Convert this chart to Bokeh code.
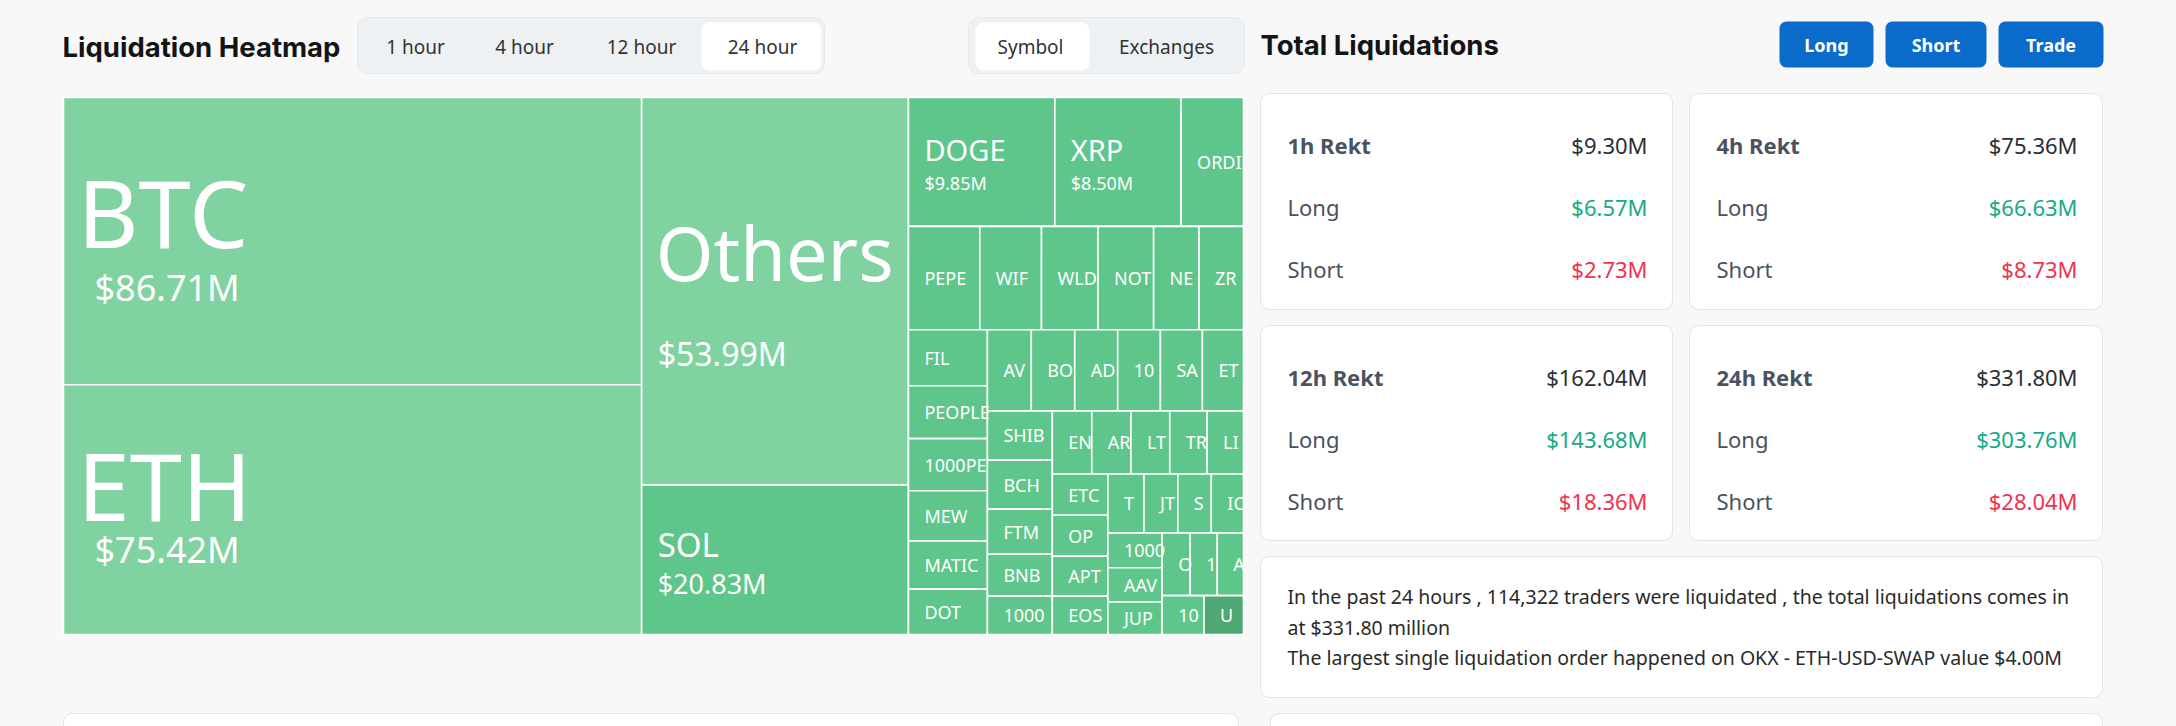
import math
from bokeh.plotting import figure
from bokeh.models import Range1d, BoxAnnotation, ColumnDataSource
from bokeh.embed import file_html
from bokeh.resources import INLINE
from bokeh.core.properties import value

# ---------------- data ----------------
coins = ["BTC", "ETH", "Others", "SOL", "DOGE", "XRP",
         "ORDI", "PEPE", "WIF", "WLD", "NOT", "NEAR", "ZRO",
         "FIL", "PEOPLE", "1000PEPE", "MEW", "MATIC", "DOT",
         "AVAX", "BOME", "ADA", "1000BONK", "SATS", "ETHFI",
         "SHIB", "BCH", "FTM", "BNB", "1000RATS",
         "ENA", "ARB", "LTC", "TRB", "LINK",
         "ETC", "OP", "APT", "EOS",
         "TURBO", "JTO", "SUI", "ICP",
         "1000FLOKI", "AAVE", "JUP",
         "ONDO", "1000LUNC", "ARKM",
         "1000XEC", "UNI"]
liq_m = [86.71, 75.42, 53.99, 20.83, 9.85, 8.50,
         4.20, 3.85, 3.33, 3.05, 3.00, 2.45, 2.40,
         2.31, 2.18, 2.15, 2.07, 1.99, 1.87,
         1.86, 1.84, 1.82, 1.81, 1.78, 1.74,
         1.67, 1.66, 1.53, 1.42, 1.30,
         1.30, 1.29, 1.28, 1.23, 1.20,
         1.20, 1.19, 1.16, 1.11,
         1.11, 1.04, 1.03, 0.99,
         0.99, 0.97, 0.92,
         0.92, 0.89, 0.86,
         0.85, 0.80]
heat = [0, 0, 0] + [1] * 47 + [2]

time_tabs = ["1 hour", "4 hour", "12 hour", "24 hour"]
group_tabs = ["Symbol", "Exchanges"]
action_buttons = ["Long", "Short", "Trade"]

periods = ["1h Rekt", "4h Rekt", "12h Rekt", "24h Rekt"]
total_m = [9.30, 75.36, 162.04, 331.80]
long_m = [6.57, 66.63, 143.68, 303.76]
short_m = [2.73, 8.73, 18.36, 28.04]

traders_liquidated = 114322
largest_exchange = "OKX"
largest_symbol = "ETH-USD-SWAP"
largest_value_m = 4.00

# ---------------- page geometry helpers ----------------
PW, PH = 2176, 726
def X(sx):
    return sx
def Y(sy):
    return PH - sy

BG = "#f8f8f8"
FONT = "Noto Sans"
GREEN = "#1aa988"
RED = "#f0334d"
TILE_COLORS = ["#80d3a1", "#5ec68a", "#4fa873"]

p = figure(width=PW, height=PH, x_range=Range1d(0, PW), y_range=Range1d(0, PH),
           output_backend="svg", toolbar_location=None,
           x_axis_location=None, y_axis_location=None, min_border=0,
           background_fill_color=BG, border_fill_color=BG, outline_line_color=None)
p.grid.visible = False


def box(l, t, r, b, fill, line=None, radius=8, lw=1):
    p.add_layout(BoxAnnotation(left=X(l), right=X(r), top=Y(t), bottom=Y(b),
                               fill_color=fill, fill_alpha=1.0,
                               line_color=line, line_alpha=1.0 if line else 0.0,
                               line_width=lw, border_radius=radius, level="underlay"))


# ---------------- treemap (ECharts-style squarify) ----------------
def squarify(vals, x0, y0, w, h, ratio=(1 + 5 ** 0.5) / 2):
    total = sum(vals)
    areas = [v / total * w * h for v in vals]
    rect = [x0, y0, w, h]
    out = [None] * len(vals)

    def worst(row, rarea, L):
        amax = max(areas[i] for i in row)
        amin = min(areas[i] for i in row)
        sq = rarea * rarea
        f = L * L * ratio
        return max(f * amax / sq, sq / (f * amin))

    def position(row, rarea, L, flush):
        horiz = (L == rect[2])
        other = rarea / L
        if horiz:
            if flush or other > rect[3]:
                other = rect[3]
            last = rect[0]
            for k, i in enumerate(row):
                step = areas[i] / other
                remain = rect[0] + rect[2] - last
                mod = remain if (k == len(row) - 1 or remain < step) else step
                out[i] = (last, rect[1], mod, other)
                last += mod
            rect[1] += other
            rect[3] -= other
        else:
            if flush or other > rect[2]:
                other = rect[2]
            last = rect[1]
            for k, i in enumerate(row):
                step = areas[i] / other
                remain = rect[1] + rect[3] - last
                mod = remain if (k == len(row) - 1 or remain < step) else step
                out[i] = (rect[0], last, other, mod)
                last += mod
            rect[0] += other
            rect[2] -= other

    L = min(w, h)
    best = math.inf
    row, rarea, i = [], 0.0, 0
    while i < len(vals):
        row.append(i)
        rarea += areas[i]
        s = worst(row, rarea, L)
        if s <= best:
            i += 1
            best = s
        else:
            row.pop()
            rarea -= areas[i]
            position(row, rarea, L, False)
            L = min(rect[2], rect[3])
            row, rarea, best = [], 0.0, math.inf
    if row:
        position(row, rarea, L, True)
    return out


TM_X, TM_Y, TM_W, TM_H = 63, 97, 1180, 537
tiles = squarify(liq_m, TM_X, TM_Y, TM_W, TM_H)
total_liq = sum(liq_m)

tsrc = ColumnDataSource(dict(
    left=[X(t[0]) for t in tiles], right=[X(t[0] + t[2]) for t in tiles],
    top=[Y(t[1]) for t in tiles], bottom=[Y(t[1] + t[3]) for t in tiles],
    color=[TILE_COLORS[h] for h in heat], name=coins, val=liq_m))
p.quad(left="left", right="right", top="top", bottom="bottom", source=tsrc,
       fill_color="color", line_color="white", line_width=1.6)

CW = {c: 0.572 for c in "0123456789"}
CW.update(dict(A=.639, B=.648, C=.632, D=.735, E=.556, F=.516, G=.73, H=.742, I=.3,
               J=.264, K=.618, L=.524, M=.907, N=.764, O=.787, P=.603, Q=.787, R=.617,
               S=.549, T=.553, U=.733, V=.604, W=.92, X=.589, Y=.56, Z=.573))


def fit(name, avail, fs):
    out, acc = "", 0.0
    for ch in name:
        cw = CW.get(ch, 0.6) * fs
        if acc + cw > avail + 4:
            break
        out += ch
        acc += cw
    return out


def style(share):
    if share >= 0.2:
        return 94, 36, 14, 31
    if share >= 0.1:
        return 74, 32, 14, 16
    if share >= 0.05:
        return 33, 27, 16, 16
    if share >= 0.02:
        return 29, 18, 16, 16
    return None


nx, ny, nt, nfs = [], [], [], []
for (x, y, w, h), name, v in zip(tiles, coins, liq_m):
    st = style(v / total_liq)
    if st:
        fs_n, fs_v, pad_n, pad_v = st
        nx += [X(x + pad_n), X(x + pad_v)]
        ny += [Y(y + 0.40 * h), Y(y + 0.66 * h)]
        nt += [name, "$%.2fM" % v]
        nfs += ["%dpx" % fs_n, "%dpx" % fs_v]
    else:
        nx.append(X(x + 16))
        ny.append(Y(y + h / 2))
        nt.append(fit(name, w - 17, 18))
        nfs.append("18px")
p.text(x=nx, y=ny, text=nt, text_font_size=nfs, text_color="white",
       text_font=value(FONT), text_baseline="middle", text_align="left")

# ---------------- header ----------------
p.text(x=[X(62), X(1260)], y=[Y(46), Y(44)], text=["Liquidation Heatmap", "Total Liquidations"],
       text_font=value("Inter"), text_font_style="bold", text_font_size="27.5px",
       text_color="#141414", text_baseline="middle")

# time tabs
box(357, 17, 824, 73, "#eef1f4", "#e6e9ec", radius=10)
tab_cx = [415, 524, 641, 762]
box(701, 22, 821, 70, "#ffffff", None, radius=8)
p.text(x=[X(c) for c in tab_cx], y=[Y(46)] * 4, text=time_tabs, text_font=value(FONT),
       text_font_size="19px", text_color="#333333", text_align="center",
       text_baseline="middle")

# group tabs
box(968, 17, 1244, 73, "#eef1f4", "#e6e9ec", radius=10)
box(975, 22, 1089, 70, "#ffffff", None, radius=8)
p.text(x=[X(1030), X(1166)], y=[Y(46)] * 2, text=group_tabs, text_font=value(FONT),
       text_font_size="19px", text_color="#333333", text_align="center",
       text_baseline="middle")

# action buttons
btn_l = [1779, 1885, 1998]
btn_r = [1873, 1986, 2103]
for l, r in zip(btn_l, btn_r):
    box(l, 21, r, 67, "#0b6bcb", None, radius=7)
p.text(x=[X((l + r) / 2) for l, r in zip(btn_l, btn_r)], y=[Y(44)] * 3, text=action_buttons,
       text_font=value(FONT), text_font_style="bold", text_font_size="18px",
       text_color="white", text_align="center", text_baseline="middle")

# ---------------- rekt cards ----------------
card_l = [1260, 1689, 1260, 1689]
card_r = [1672, 2102, 1672, 2102]
card_t = [93, 93, 325, 325]
card_b = [309, 309, 540, 540]
for l, t, r, b in zip(card_l, card_t, card_r, card_b):
    box(l, t, r, b, "#ffffff", "#e4e4e4", radius=9)

lx, ly, lt, lstyle = [], [], [], []
vx, vy, vt, vcol = [], [], [], []
for k in range(4):
    l, t, r = card_l[k], card_t[k], card_r[k]
    rows_y = [t + 51, t + 113, t + 175]
    for lab, yy in zip([periods[k], "Long", "Short"], rows_y):
        lx.append(X(l + 27)); ly.append(Y(yy)); lt.append(lab)
    for val, yy, col in zip([total_m[k], long_m[k], short_m[k]], rows_y,
                            ["#2b2f36", GREEN, RED]):
        vx.append(X(r - 25)); vy.append(Y(yy)); vt.append("$%.2fM" % val); vcol.append(col)
    lstyle += ["bold", "normal", "normal"]

p.text(x=lx, y=ly, text=lt, text_font=value(FONT), text_font_size="22px",
       text_color="#4b5260", text_baseline="middle", text_font_style=lstyle)
p.text(x=vx, y=vy, text=vt, text_font=value(FONT), text_font_size="22px",
       text_color=vcol, text_baseline="middle", text_align="right")

# ---------------- summary box ----------------
box(1260, 556, 2102, 697, "#ffffff", "#e4e4e4", radius=9)
summary = [
    "In the past 24 hours , %s traders were liquidated , the total liquidations comes in"
    % format(traders_liquidated, ","),
    "at $%.2f million" % total_m[3],
    "The largest single liquidation order happened on %s - %s value $%.2fM"
    % (largest_exchange, largest_symbol, largest_value_m),
]
p.text(x=[X(1287)] * 3, y=[Y(596), Y(627), Y(657)], text=summary, text_font=value(FONT),
       text_font_size="19.5px", text_color="#2a2a2a", text_baseline="middle")

# ---------------- lower panels (cut off) ----------------
box(63, 713, 1238, 760, "#ffffff", "#e4e4e4", radius=9)
box(1270, 713, 2102, 760, "#ffffff", "#e4e4e4", radius=9)

html = file_html(p, INLINE)
html = html.replace("<head>", "<head><style>html,body{margin:0;padding:0;overflow:hidden;"
                    "background:%s;}</style>" % BG, 1)
open("out.html", "w").write(html)
